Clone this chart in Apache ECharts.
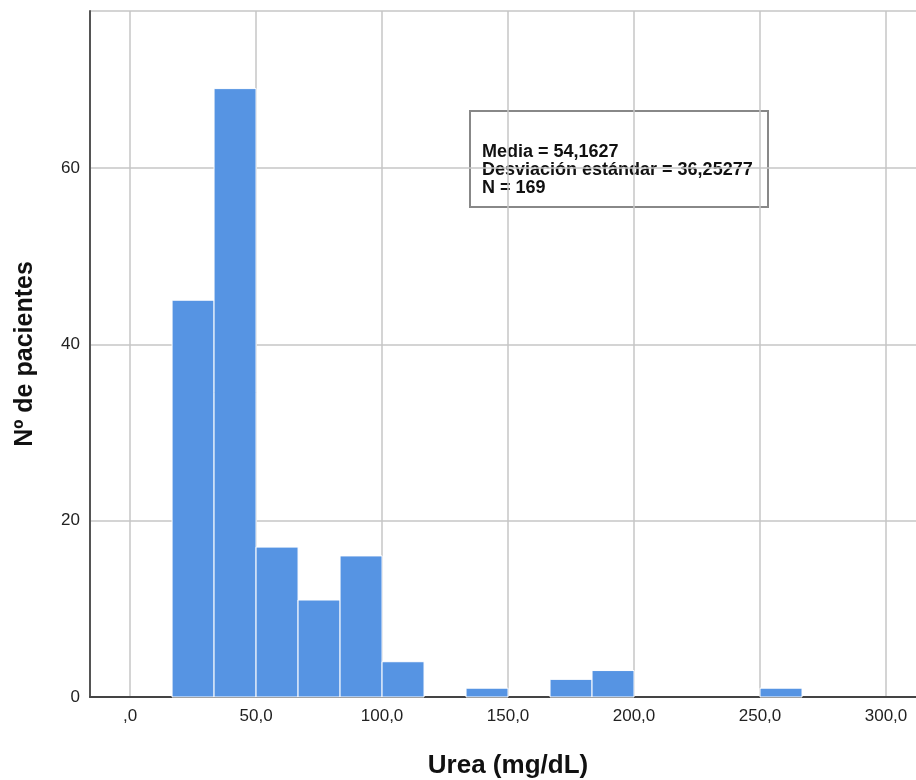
<!DOCTYPE html>
<html>
<head>
<meta charset="utf-8">
<script src="https://cdn.jsdelivr.net/npm/echarts@6/dist/echarts.min.js"></script>
<style>
  html, body { margin: 0; padding: 0; background: #fff; }
  #main { width: 916px; height: 780px; }
</style>
</head>
<body>
<div id="main"></div>
<script>
var chart = echarts.init(document.getElementById('main'));

// histogram bins (mg/dL) and counts
var binStart = [16.667, 33.333, 50, 66.667, 83.333, 100, 116.667, 133.333, 150, 166.667, 183.333, 200, 216.667, 233.333, 250];
var binEnd   = [33.333, 50, 66.667, 83.333, 100, 116.667, 133.333, 150, 166.667, 183.333, 200, 216.667, 233.333, 250, 266.667];
var counts   = [45, 69, 17, 11, 16, 4, 0, 1, 0, 2, 3, 0, 0, 0, 1];
var xTicks   = [0, 50, 100, 150, 200, 250, 300];
var statsLines = ['Media = 54,1627', 'Desviación estándar = 36,25277', 'N = 169'];

var barData = [];
for (var i = 0; i < counts.length; i++) {
    if (counts[i] > 0) barData.push([binStart[i], binEnd[i], counts[i]]);
}

var option = {
    backgroundColor: '#fff',
    textStyle: { fontFamily: 'Liberation Sans, Arial, sans-serif' },
    grid: { left: 90, right: 0, top: 11, bottom: 83, outerBoundsMode: 'none', containLabel: false },
    xAxis: {
        type: 'value',
        min: -15.9,
        max: 311.9,
        name: 'Urea (mg/dL)',
        nameLocation: 'middle',
        nameGap: 56,
        nameTextStyle: { fontSize: 26, fontWeight: 'bold', color: '#111', padding: [0, 0, 0, 10] },
        axisLine: { show: true, onZero: false, lineStyle: { color: '#444', width: 2 } },
        axisTick: { show: false, customValues: xTicks },
        axisLabel: {
            customValues: xTicks,
            margin: 11,
            fontSize: 17,
            color: '#222',
            formatter: function (v) {
                return v === 0 ? ',0' : v.toFixed(1).replace('.', ',');
            }
        },
        splitLine: { show: true, lineStyle: { color: '#c6c6c6', width: 1.5 } }
    },
    yAxis: {
        type: 'value',
        min: 0,
        max: 77.8,
        interval: 20,
        name: 'Nº de pacientes',
        nameLocation: 'middle',
        nameGap: 52,
        nameTextStyle: { fontSize: 25, fontWeight: 'bold', color: '#111' },
        axisLine: { show: true, onZero: false, lineStyle: { color: '#555', width: 2 } },
        axisTick: { show: false },
        axisLabel: {
            margin: 10,
            fontSize: 17,
            color: '#222',
            showMaxLabel: false
        },
        splitLine: { show: true, lineStyle: { color: '#c6c6c6', width: 1.5 } }
    },
    series: [{
        type: 'custom',
        data: barData,
        encode: { x: [0, 1], y: 2 },
        renderItem: function (params, api) {
            var p0 = api.coord([api.value(0), api.value(2)]);
            var p1 = api.coord([api.value(1), 0]);
            return {
                type: 'rect',
                shape: { x: p0[0], y: p0[1], width: p1[0] - p0[0], height: p1[1] - p0[1] },
                style: { fill: '#5694e3', stroke: '#fff', lineWidth: 1 }
            };
        }
    }],
    graphic: [{
        type: 'group',
        left: 469,
        top: 110,
        children: [{
            type: 'rect',
            shape: { x: 0, y: 0, width: 298, height: 96 },
            style: { fill: '#fff', stroke: '#888', lineWidth: 2 }
        }, {
            type: 'text',
            x: 12,
            y: 32,
            style: {
                text: statsLines.join('\n'),
                font: 'bold 18px Liberation Sans, Arial, sans-serif',
                lineHeight: 18,
                fill: '#111'
            }
        }]
    }]
};
chart.setOption(option);
</script>
</body>
</html>
